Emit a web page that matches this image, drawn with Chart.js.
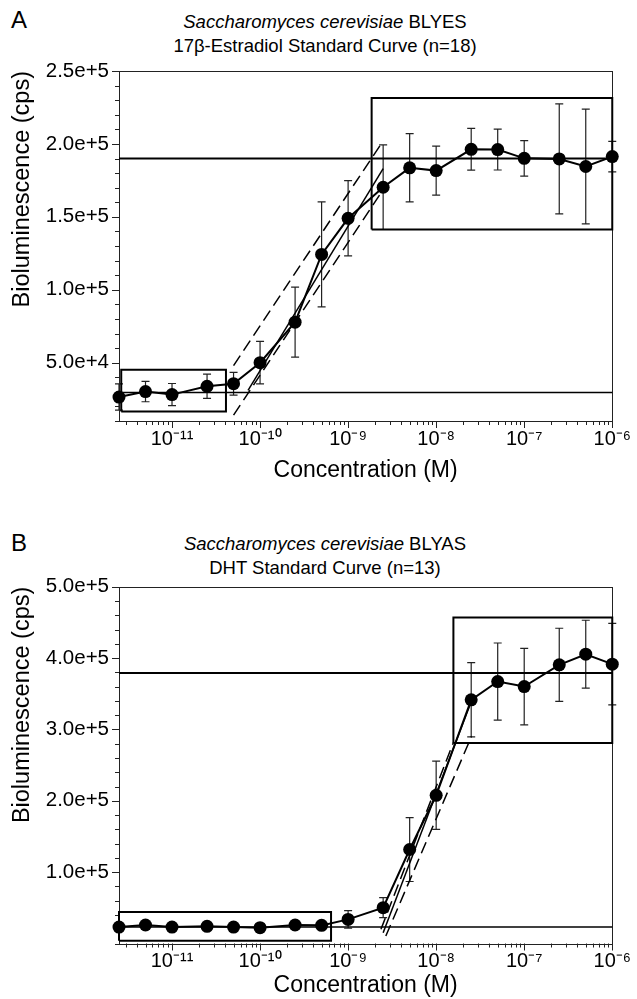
<!DOCTYPE html>
<html>
<head>
<meta charset="utf-8">
<script src="https://cdn.jsdelivr.net/npm/chart.js@4.4.1/dist/chart.umd.min.js"></script>
<style>
html,body{margin:0;padding:0;background:#fff;}
body{width:637px;height:999px;position:relative;overflow:hidden;font-family:"Liberation Sans",Arial,sans-serif;color:#000;}
canvas{position:absolute;left:0;}
.letter{position:absolute;left:11px;font-size:24px;line-height:1;}
.ttl{position:absolute;left:0;width:650px;text-align:center;font-size:18.5px;line-height:24px;white-space:nowrap;}
</style>
</head>
<body>
<div class="letter" style="top:8px">A</div>
<div class="ttl" style="top:10px"><i>Saccharomyces cerevisiae</i> BLYES<br>17β-Estradiol Standard Curve (n=18)</div>
<canvas id="chartA" width="637" height="500" style="top:0"></canvas>
<div class="letter" style="top:531px">B</div>
<div class="ttl" style="top:532px"><i>Saccharomyces cerevisiae</i> BLYAS<br>DHT Standard Curve (n=13)</div>
<canvas id="chartB" width="637" height="499" style="top:500px"></canvas>
<script>
// ---------- data ----------
const concentration = [2.5e-12,5e-12,1e-11,2.5e-11,5e-11,1e-10,2.5e-10,5e-10,1e-9,2.5e-9,5e-9,1e-8,2.5e-8,5e-8,1e-7,2.5e-7,5e-7,1e-6];

const blyesMean = [26400,30200,28100,33800,35600,50000,77800,124200,149000,170300,183600,181700,196300,196100,190100,189700,184500,191300];
const blyesSD   = [9000,7000,7600,8300,7800,14600,24000,36000,25800,29000,23400,16800,14300,14000,12200,37700,39300,10500];

const blyasMean = [23000,25900,23000,24000,23000,22200,25900,25400,33800,50200,131700,207700,341500,367100,360100,390500,405400,391500];
const blyasSD   = [3000,3000,3000,3000,3000,3000,3000,3000,12400,14000,44800,47800,52000,54000,53600,51300,47600,57100];

// reference levels (background / maximum)
const blyesLevels = [29500, 190000];
const blyasLevels = [23000, 379000];

// boxes [x-range], [y-range]
const blyesLowBoxX = [2.65e-12, 4.1e-11];  const blyesLowBoxY = [16600, 45200];
const blyesHighBoxX = [1.85e-9, 1e-6];     const blyesHighBoxY = [141300, 231500];
const blyasLowBoxX = [2.5e-12, 6.4e-10];   const blyasLowBoxY = [4000, 44000];
const blyasHighBoxX = [1.57e-8, 1e-6];     const blyasHighBoxY = [281000, 457000];

// linear-range regression and confidence bands
const blyesFitX = [7.3e-11, 2.5e-9];       const blyesFitY = [31000, 183000];
const blyesUpperX = [5e-11, 2.3e-9];       const blyesUpperY = [48000, 198800];
const blyesLowerX = [5e-11, 2.4e-9];       const blyesLowerY = [14000, 167000];
const blyasFitX = [2.5e-9, 2.55e-8];       const blyasFitY = [15000, 341500];
const blyasUpperX = [2.36e-9, 1.57e-8];    const blyasUpperY = [19900, 281800];
const blyasLowerX = [2.68e-9, 2.52e-8];    const blyasLowerY = [10500, 290200];

// axes
const xRange = [2.5e-12, 1e-6];
const xTickValues = [1e-11,1e-10,1e-9,1e-8,1e-7,1e-6];
const xTickLabels = ['10⁻¹¹','10⁻¹⁰','10⁻⁹','10⁻⁸','10⁻⁷','10⁻⁶'];
const blyesYRange = [10000, 250000];
const blyesYTicks = [50000,100000,150000,200000,250000];
const blyesYLabels = ['5.0e+4','1.0e+5','1.5e+5','2.0e+5','2.5e+5'];
const blyasYRange = [0, 500000];
const blyasYTicks = [100000,200000,300000,400000,500000];
const blyasYLabels = ['1.0e+5','2.0e+5','3.0e+5','4.0e+5','5.0e+5'];

// ---------- helpers ----------
const FONT = 'Liberation Sans, Arial, sans-serif';
const pts = (xs, ys) => xs.map((x, i) => ({x, y: ys[i]}));
const boxPts = (xs, ys) => [{x:xs[0],y:ys[0]},{x:xs[1],y:ys[0]},{x:xs[1],y:ys[1]},{x:xs[0],y:ys[1]},{x:xs[0],y:ys[0]}];
const isXMajor = v => xTickValues.some(t => Math.abs(Math.log10(v) - Math.log10(t)) < 1e-6);

const framePlugin = {
  id: 'frameTicks',
  beforeDatasetsDraw(chart) {
    const {ctx, chartArea: a, scales: {x, y}} = chart;
    const majors = chart.options.plugins.frameTicks.yMajors;
    ctx.save();
    ctx.strokeStyle = '#222';
    ctx.lineWidth = 1;
    ctx.beginPath();
    x.ticks.forEach(t => {
      const px = Math.round(x.getPixelForValue(t.value)) + 0.5;
      const len = isXMajor(t.value) ? 7 : 4;
      ctx.moveTo(px, a.bottom); ctx.lineTo(px, a.bottom + len);
    });
    y.ticks.forEach(t => {
      const py = Math.round(y.getPixelForValue(t.value)) + 0.5;
      const len = majors.includes(t.value) ? 7 : 4;
      ctx.moveTo(a.left, py); ctx.lineTo(a.left - len, py);
    });
    ctx.stroke();
    ctx.strokeRect(Math.round(a.left) + 0.5, Math.round(a.top) + 0.5, Math.round(a.right) - Math.round(a.left), Math.round(a.bottom) - Math.round(a.top));
    ctx.restore();
  }
};

const errorBarPlugin = {
  id: 'errorBars',
  beforeDatasetsDraw(chart) {
    const {ctx, scales: {x, y}} = chart;
    const o = chart.options.plugins.errorBars;
    ctx.save();
    ctx.strokeStyle = '#222';
    ctx.lineWidth = 1.2;
    ctx.beginPath();
    o.x.forEach((xv, i) => {
      const px = x.getPixelForValue(xv);
      const y1 = y.getPixelForValue(o.y[i] + o.e[i]);
      const y2 = y.getPixelForValue(o.y[i] - o.e[i]);
      ctx.moveTo(px, y1); ctx.lineTo(px, y2);
      ctx.moveTo(px - 4, y1); ctx.lineTo(px + 4, y1);
      ctx.moveTo(px - 4, y2); ctx.lineTo(px + 4, y2);
    });
    ctx.stroke();
    ctx.restore();
  }
};

function lineDs(data, width, dash) {
  return {data, borderColor: '#000', borderWidth: width, borderDash: dash || [], pointRadius: 0,
          pointHoverRadius: 0, fill: false, tension: 0, clip: false, borderJoinStyle: 'miter', borderCapStyle: 'butt'};
}

function buildChart(id, p) {
  return new Chart(document.getElementById(id), {
    type: 'line',
    data: {
      datasets: [
        {data: pts(concentration, p.mean), borderColor: '#000', borderWidth: 2, pointRadius: 6.5,
         pointBackgroundColor: '#000', pointBorderColor: '#000', pointBorderWidth: 0, pointHoverRadius: 6.5,
         tension: 0, fill: false, clip: false},
        lineDs(pts(p.fitX, p.fitY), 1.5),
        lineDs(pts(p.upX, p.upY), 1.5, [12, 6]),
        lineDs(pts(p.loX, p.loY), 1.5, [12, 6]),
        lineDs(boxPts(p.lowBoxX, p.lowBoxY), 2),
        lineDs(boxPts(p.highBoxX, p.highBoxY), 2),
        lineDs(pts(xRange, [p.levels[0], p.levels[0]]), 1.5),
        lineDs(pts(xRange, [p.levels[1], p.levels[1]]), 2)
      ]
    },
    options: {
      responsive: false,
      animation: false,
      devicePixelRatio: 1,
      events: [],
      layout: {padding: {left: 0, right: 17, top: p.padTop, bottom: p.padBottom}},
      plugins: {
        legend: {display: false},
        tooltip: {enabled: false},
        frameTicks: {yMajors: p.yTicks},
        errorBars: {x: concentration, y: p.mean, e: p.sd}
      },
      scales: {
        x: {
          type: 'logarithmic',
          min: xRange[0], max: xRange[1],
          grid: {display: false, drawTicks: false},
          border: {display: false},
          afterBuildTicks: s => {
            const t = [];
            for (let e = -12; e <= -6; e++) for (let m = 1; m <= 9; m++) {
              const v = m * Math.pow(10, e);
              if (v >= xRange[0] * 0.999 && v <= xRange[1] * 1.001) t.push({value: v});
            }
            s.ticks = t;
          },
          afterFit: s => { s.height = p.xAxisH; },
          ticks: {
            autoSkip: false, maxRotation: 0, padding: 6, color: '#000',
            font: {family: FONT, size: 20},
            callback: v => { const i = xTickValues.findIndex(t => Math.abs(Math.log10(v) - Math.log10(t)) < 1e-6); return i >= 0 ? xTickLabels[i] : ''; }
          },
          title: {display: true, text: 'Concentration (M)', color: '#000', font: {family: FONT, size: 23}, padding: {top: 0, bottom: 0}}
        },
        y: {
          type: 'linear',
          min: p.yRange[0], max: p.yRange[1],
          grid: {display: false, drawTicks: false},
          border: {display: false},
          afterFit: s => { s.width = 119; },
          ticks: {
            stepSize: p.yStep, autoSkip: false, padding: 10, color: '#000',
            font: {family: FONT, size: 20.5},
            callback: v => { const i = p.yTicks.indexOf(v); return i >= 0 ? p.yLabels[i] : ''; }
          },
          title: {display: true, text: 'Bioluminescence (cps)', align: 'end', color: '#000', font: {family: FONT, size: 23.5}, padding: {top: 8, bottom: 0}}
        }
      }
    },
    plugins: [framePlugin, errorBarPlugin]
  });
}

buildChart('chartA', {
  mean: blyesMean, sd: blyesSD, levels: blyesLevels,
  lowBoxX: blyesLowBoxX, lowBoxY: blyesLowBoxY, highBoxX: blyesHighBoxX, highBoxY: blyesHighBoxY,
  fitX: blyesFitX, fitY: blyesFitY, upX: blyesUpperX, upY: blyesUpperY, loX: blyesLowerX, loY: blyesLowerY,
  yRange: blyesYRange, yTicks: blyesYTicks, yLabels: blyesYLabels, yStep: 10000,
  padTop: 71, padBottom: 16, xAxisH: 63
});
buildChart('chartB', {
  mean: blyasMean, sd: blyasSD, levels: blyasLevels,
  lowBoxX: blyasLowBoxX, lowBoxY: blyasLowBoxY, highBoxX: blyasHighBoxX, highBoxY: blyasHighBoxY,
  fitX: blyasFitX, fitY: blyasFitY, upX: blyasUpperX, upY: blyasUpperY, loX: blyasLowerX, loY: blyasLowerY,
  yRange: blyasYRange, yTicks: blyasYTicks, yLabels: blyasYLabels, yStep: 20000,
  padTop: 86.7, padBottom: 0, xAxisH: 55.5
});
</script>
</body>
</html>
